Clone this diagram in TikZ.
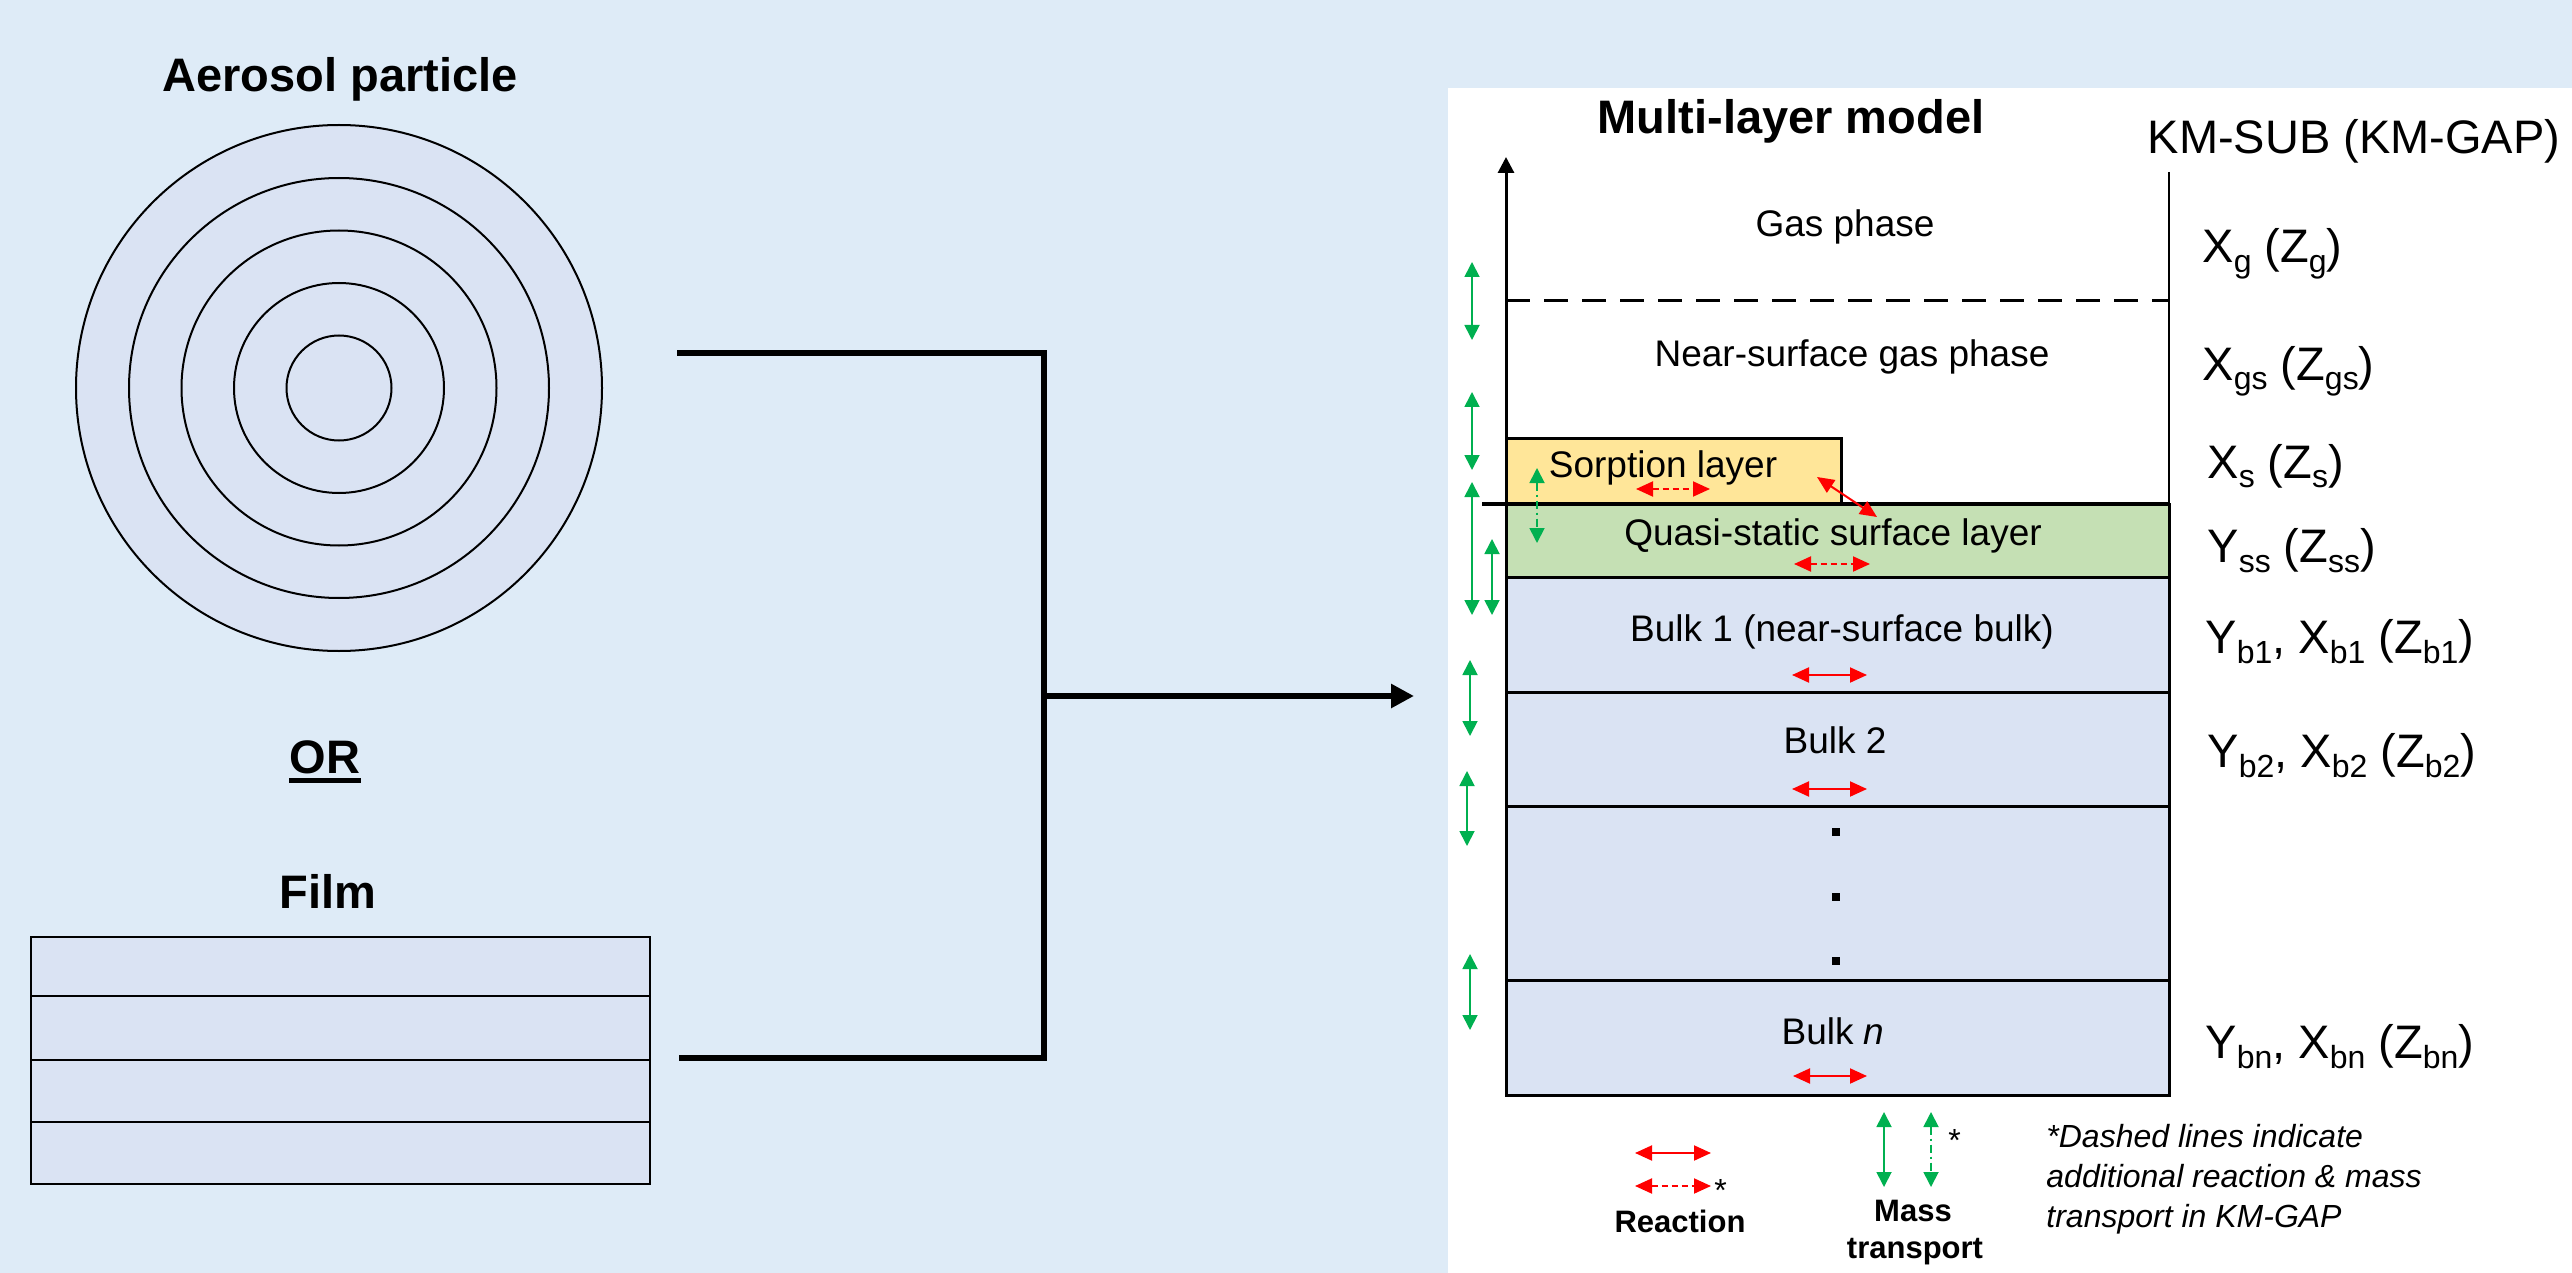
\documentclass[tikz,border=0pt]{standalone}
\usepackage{fontspec}
\setmainfont{Liberation Sans}
\usetikzlibrary{arrows.meta}
\definecolor{pagebg}{HTML}{DEEBF7}
\definecolor{layerblue}{HTML}{DAE3F3}
\definecolor{sorpyellow}{HTML}{FFE699}
\definecolor{surfgreen}{HTML}{C5E0B4}
\definecolor{mtgreen}{HTML}{00B050}
\definecolor{rxred}{HTML}{FF0000}
\newcommand\fsz[1]{\fontsize{#1}{#1}\selectfont}
\newcommand\sbs[1]{\raisebox{-5pt}{\fontsize{16}{16}\selectfont #1}}
\tikzset{
  txt/.style={inner sep=0pt, anchor=base},
  boxtxt/.style={txt, font={\fsz{18.5}}},
  bigbold/.style={txt, font={\fsz{23.5}\bfseries}},
  conc/.style={txt, anchor=base west, font={\fsz{23.5}}},
  legbold/.style={txt, font={\fsz{15.5}\bfseries}},
  notetxt/.style={txt, anchor=base west, font={\fsz{16}\itshape}},
  layerbox/.style={draw=black, line width=1.5pt},
  filmbox/.style={draw=black, line width=1.25pt, fill=layerblue},
  ring/.style={draw=black, line width=1pt},
  conn/.style={draw=black, line width=3pt},
  rx/.style={draw=rxred, line width=1pt, {Triangle[length=8.5pt,width=7.5pt]}-{Triangle[length=8.5pt,width=7.5pt]}},
  rxd/.style={rx, dash pattern=on 3pt off 2pt},
  mt/.style={draw=mtgreen, line width=0.9pt, {Triangle[length=7.5pt,width=7.5pt]}-{Triangle[length=7.5pt,width=7.5pt]}},
  mtd/.style={mt, dash pattern=on 4pt off 2pt on 1pt off 2pt},
}
\begin{document}
\begin{tikzpicture}[x=0.5pt,y=-0.5pt]
% background and bounding box
\fill[pagebg] (0,0) rectangle (2572,1273);
\path[use as bounding box] (0,0) rectangle (2572,1273);
\fill[white] (1448,88) rectangle (2572,1273);

% ---------- aerosol particle ----------
\node[bigbold] (aplabel) at (340,92) {Aerosol particle};
\node[circle, ring, fill=layerblue, minimum size=263pt, inner sep=0pt] (particle) at (339,388) {};
\draw[ring] (particle.center) circle[radius=105pt];
\draw[ring] (particle.center) circle[radius=78.75pt];
\draw[ring] (particle.center) circle[radius=52.5pt];
\draw[ring] (particle.center) circle[radius=26.25pt];

% ---------- OR ----------
\node[bigbold] (orlabel) at (325,773) {OR};
\draw[line width=2.75pt] ([yshift=-3.75pt]orlabel.base west) -- ([yshift=-3.75pt]orlabel.base east);

% ---------- film ----------
\node[bigbold] (filmlabel) at (328,908) {Film};
\draw[filmbox] (31,937) rectangle (650,996);
\draw[filmbox] (31,996) rectangle (650,1060);
\draw[filmbox] (31,1060) rectangle (650,1122);
\draw[filmbox] (31,1122) rectangle (650,1184);

% ---------- connector ----------
\coordinate (pout) at (677,353);
\coordinate (pj) at (1044,353);
\coordinate (fout) at (679,1058);
\coordinate (fj) at (1044,1058);
\coordinate (mj) at (1044,696);
\coordinate (min) at (1414,696);
\draw[conn, line join=miter] (pout) -- (pj) -- (fj) -- (fout);
\draw[conn, -{Triangle[length=11.5pt,width=11.5pt]}] (mj) -- (min);

% ---------- multi-layer model ----------
\node[bigbold] (mltitle) at (1791,134) {Multi-layer model};
\node[txt, font={\fsz{23.5}}] (kmsub) at (2354,154) {KM-SUB (KM-GAP)};

\draw[line width=1.5pt, dash pattern=on 12pt off 7pt] (1506,301) -- (2169,301);
\draw[line width=1pt] (2169,172) -- (2169,504);

\draw[layerbox, fill=sorpyellow] (1506,438) rectangle (1841,504);
\draw[layerbox, fill=surfgreen] (1506,504) rectangle (2169,577);
\draw[layerbox, fill=layerblue] (1506,577) rectangle (2169,692);
\draw[layerbox, fill=layerblue] (1506,692) rectangle (2169,806);
\draw[layerbox, fill=layerblue] (1506,806) rectangle (2169,980);
\draw[layerbox, fill=layerblue] (1506,980) rectangle (2169,1095);
\draw[line width=1.75pt] (1482,504) -- (2169,504);
\draw[line width=1.5pt, -{Triangle[length=8pt,width=8pt]}] (1506,1095) -- (1506,157);

\fill (1832,828) rectangle (1840,836);
\fill (1832,893) rectangle (1840,901);
\fill (1832,957) rectangle (1840,965);

\node[boxtxt] (gas) at (1845,237) {Gas phase};
\node[boxtxt] (nsg) at (1852,367) {Near-surface gas phase};
\node[boxtxt] (sorp) at (1663,477) {Sorption layer};
\node[boxtxt] (qss) at (1833,545) {Quasi-static surface layer};
\node[boxtxt] (bulk1) at (1842,641) {Bulk 1 (near-surface bulk)};
\node[boxtxt] (bulk2) at (1835,753) {Bulk 2};
\node[boxtxt] (bulkn) at (1833,1044) {Bulk \textit{n}};

% concentration labels
\node[conc] (cg) at (2202,263) {X\sbs{g} (Z\sbs{g})};
\node[conc] (cgs) at (2202,380) {X\sbs{gs} (Z\sbs{gs})};
\node[conc] (cs) at (2207,478) {X\sbs{s} (Z\sbs{s})};
\node[conc] (css) at (2207,562) {Y\sbs{ss} (Z\sbs{ss})};
\node[conc] (cb1) at (2205,653) {Y\sbs{b1}, X\sbs{b1} (Z\sbs{b1})};
\node[conc] (cb2) at (2207,767) {Y\sbs{b2}, X\sbs{b2} (Z\sbs{b2})};
\node[conc] (cbn) at (2205,1058) {Y\sbs{bn}, X\sbs{bn} (Z\sbs{bn})};

% reaction arrows
\draw[rx] (1792,675) -- (1867,675);
\draw[rx] (1792,789) -- (1867,789);
\draw[rx] (1793,1076) -- (1867,1076);
\draw[rx] (1817,477) -- (1877,517);
\draw[rxd] (1794,564) -- (1870,564);
\draw[rxd] (1636,489) -- (1710,489);

% mass transport arrows
\draw[mt] (1472,262) -- (1472,340);
\draw[mt] (1472,392) -- (1472,470);
\draw[mt] (1472,482) -- (1472,615);
\draw[mt] (1492,539) -- (1492,615);
\draw[mtd] (1537,468) -- (1537,543);
\draw[mt] (1470,660) -- (1470,736);
\draw[mt] (1467,771) -- (1467,846);
\draw[mt] (1470,954) -- (1470,1030);

% ---------- legend ----------
\draw[rx] (1635,1153) -- (1711,1153);
\draw[rxd] (1635,1186) -- (1711,1186);
\node[txt, anchor=base west, font={\fsz{16}}] (rxstar) at (1714,1201) {*};
\node[legbold] (rxlabel) at (1680,1232) {Reaction};

\draw[mt] (1884,1112) -- (1884,1187);
\draw[mtd] (1931,1112) -- (1931,1187);
\node[txt, anchor=base west, font={\fsz{16}}] (mtstar) at (1948,1151) {*};
\node[legbold] (mtlabel1) at (1913,1221) {Mass};
\node[legbold] (mtlabel2) at (1915,1258) {transport};

\node[notetxt] (note1) at (2046,1147) {*Dashed lines indicate};
\node[notetxt] (note2) at (2046,1187) {additional reaction \& mass};
\node[notetxt] (note3) at (2046,1227) {transport in KM-GAP};
\end{tikzpicture}
\end{document}
